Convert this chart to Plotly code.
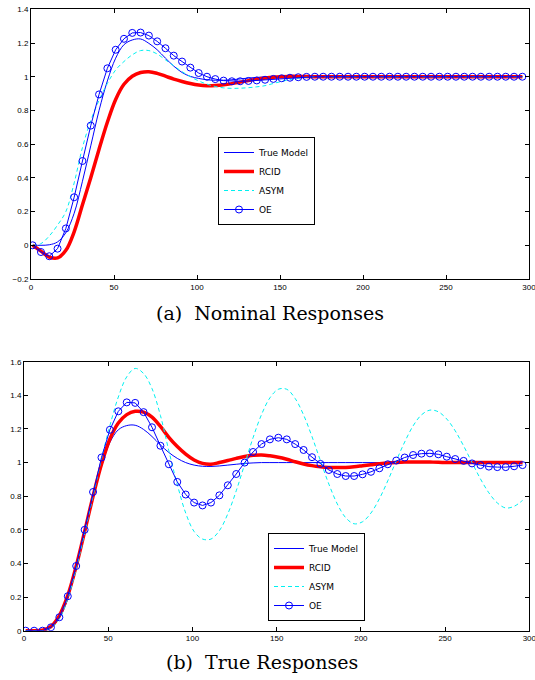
import plotly.graph_objects as go

# sample times (MATLAB style 1:5:296)
t = [1, 6, 11, 16, 21, 26, 31, 36, 41, 46, 51, 56, 61, 66, 71, 76, 81, 86, 91, 96,
     101, 106, 111, 116, 121, 126, 131, 136, 141, 146, 151, 156, 161, 166, 171, 176, 181, 186, 191, 196,
     201, 206, 211, 216, 221, 226, 231, 236, 241, 246, 251, 256, 261, 266, 271, 276, 281, 286, 291, 296]

# ---------- (a) Nominal responses ----------
nom_true = [0, 0, 0.003, 0.02, 0.075, 0.19, 0.38, 0.59, 0.80, 0.975,
            1.11, 1.19, 1.218, 1.224, 1.198, 1.16, 1.11, 1.063, 1.025, 1.002,
            0.99, 0.982, 0.979, 0.979, 0.982, 0.987, 0.992, 0.996, 0.999, 1.0,
            1.0, 1.0, 1.0, 1.0, 1.0, 1.0, 1.0, 1.0, 1.0, 1.0,
            1.0, 1.0, 1.0, 1.0, 1.0, 1.0, 1.0, 1.0, 1.0, 1.0,
            1.0, 1.0, 1.0, 1.0, 1.0, 1.0, 1.0, 1.0, 1.0, 1.0]
nom_rcid = [0, -0.035, -0.07, -0.075, -0.03, 0.08, 0.24, 0.40, 0.57, 0.73,
            0.865, 0.955, 1.003, 1.025, 1.03, 1.02, 1.003, 0.986, 0.972, 0.96,
            0.951, 0.947, 0.948, 0.952, 0.959, 0.968, 0.977, 0.986, 0.992, 0.997,
            1.0, 1.002, 1.002, 1.001, 1.0, 1.0, 1.0, 1.0, 1.0, 1.0,
            1.0, 1.0, 1.0, 1.0, 1.0, 1.0, 1.0, 1.0, 1.0, 1.0,
            1.0, 1.0, 1.0, 1.0, 1.0, 1.0, 1.0, 1.0, 1.0, 1.0]
nom_asym = [0, 0.01, 0.055, 0.12, 0.20, 0.37, 0.58, 0.74, 0.86, 0.96,
            1.04, 1.09, 1.13, 1.155, 1.155, 1.135, 1.10, 1.065, 1.03, 1.0,
            0.975, 0.956, 0.942, 0.934, 0.931, 0.932, 0.935, 0.94, 0.947, 0.96,
            0.972, 0.983, 0.991, 0.997, 1.0, 1.0, 1.0, 1.0, 1.0, 1.0,
            1.0, 1.0, 1.0, 1.0, 1.0, 1.0, 1.0, 1.0, 1.0, 1.0,
            1.0, 1.0, 1.0, 1.0, 1.0, 1.0, 1.0, 1.0, 1.0, 1.0]
nom_oe = [0, -0.04, -0.065, -0.02, 0.10, 0.285, 0.50, 0.71, 0.895, 1.05,
          1.16, 1.225, 1.26, 1.262, 1.244, 1.21, 1.169, 1.125, 1.09, 1.054,
          1.022, 1.0, 0.986, 0.977, 0.973, 0.973, 0.975, 0.978, 0.982, 0.987,
          0.991, 0.994, 0.997, 0.999, 1.0, 1.0, 1.0, 1.0, 1.0, 1.0,
          1.0, 1.0, 1.0, 1.0, 1.0, 1.0, 1.0, 1.0, 1.0, 1.0,
          1.0, 1.0, 1.0, 1.0, 1.0, 1.0, 1.0, 1.0, 1.0, 1.0]

# ---------- (b) True responses ----------
tru_true = [0, 0, 0.003, 0.02, 0.075, 0.19, 0.38, 0.59, 0.80, 0.975,
            1.12, 1.195, 1.22, 1.222, 1.197, 1.155, 1.105, 1.06, 1.025, 1.0,
            0.985, 0.978, 0.977, 0.98, 0.985, 0.99, 0.995, 0.998, 1.0, 1.0,
            1.0, 1.0, 1.0, 1.0, 1.0, 1.0, 1.0, 1.0, 1.0, 1.0,
            1.0, 1.0, 1.0, 1.0, 1.0, 1.0, 1.0, 1.0, 1.0, 1.0,
            1.0, 1.0, 1.0, 1.0, 1.0, 1.0, 1.0, 1.0, 1.0, 1.0]
tru_rcid = [0, 0, 0.003, 0.025, 0.09, 0.21, 0.385, 0.59, 0.80, 0.99,
            1.14, 1.235, 1.285, 1.305, 1.30, 1.27, 1.215, 1.15, 1.095, 1.05,
            1.015, 0.995, 0.99, 1.0, 1.012, 1.025, 1.036, 1.043, 1.045, 1.04,
            1.032, 1.02, 1.005, 0.992, 0.982, 0.975, 0.971, 0.97, 0.971, 0.975,
            0.981, 0.987, 0.993, 0.998, 1.001, 1.003, 1.004, 1.004, 1.003, 1.002,
            1.0, 1.0, 1.0, 1.0, 1.0, 1.0, 1.0, 1.0, 1.0, 1.0]
tru_asym = [0, 0, 0.0, 0.015, 0.07, 0.19, 0.37, 0.58, 0.80, 1.02,
            1.22, 1.39, 1.51, 1.56, 1.53, 1.44, 1.28, 1.07, 0.87, 0.70,
            0.59, 0.545, 0.545, 0.595, 0.695, 0.832, 0.99, 1.148, 1.285, 1.385,
            1.436, 1.436, 1.381, 1.283, 1.154, 1.011, 0.872, 0.754, 0.672, 0.636,
            0.648, 0.70, 0.785, 0.892, 1.01, 1.122, 1.218, 1.284, 1.312, 1.302,
            1.259, 1.189, 1.099, 1.0, 0.903, 0.82, 0.76, 0.73, 0.74, 0.775]
tru_oe = [0, 0, 0.0, 0.02, 0.08, 0.205, 0.385, 0.60, 0.825, 1.03,
          1.195, 1.305, 1.358, 1.355, 1.30, 1.21, 1.10, 0.99, 0.885, 0.81,
          0.762, 0.745, 0.762, 0.805, 0.865, 0.932, 1.0, 1.063, 1.11, 1.138,
          1.148, 1.138, 1.11, 1.075, 1.032, 0.992, 0.956, 0.932, 0.92, 0.92,
          0.93, 0.945, 0.966, 0.99, 1.012, 1.03, 1.045, 1.053, 1.055, 1.049,
          1.035, 1.021, 1.01, 0.995, 0.985, 0.976, 0.973, 0.973, 0.978, 0.985]

names = ["True Model", "RCID", "ASYM", "OE"]
x_ticks = [0, 50, 100, 150, 200, 250, 300]
x_ticktext = ["0", "50", "100", "150", "200", "250", "300"]
ya_ticks = [-0.2, 0, 0.2, 0.4, 0.6, 0.8, 1.0, 1.2, 1.4]
ya_ticktext = ["\u22120.2", "0", "0.2", "0.4", "0.6", "0.8", "1", "1.2", "1.4"]
yb_ticks = [0, 0.2, 0.4, 0.6, 0.8, 1.0, 1.2, 1.4, 1.6]
yb_ticktext = ["0", "0.2", "0.4", "0.6", "0.8", "1", "1.2", "1.4", "1.6"]
captions = ["(a)  Nominal Responses", "(b)  True Responses"]

W, H = 535, 680
fig = go.Figure()

def add_set(ys, xa, ya, legend):
    tr, rc, asy, oe = ys
    fig.add_trace(go.Scatter(x=t, y=tr, name=names[0], mode="lines", xaxis=xa, yaxis=ya, legend=legend,
                             line=dict(color="#0000ff", width=1, shape="spline")))
    fig.add_trace(go.Scatter(x=t, y=rc, name=names[1], mode="lines", xaxis=xa, yaxis=ya, legend=legend,
                             line=dict(color="#ff0000", width=3.5, shape="spline")))
    fig.add_trace(go.Scatter(x=t, y=asy, name=names[2], mode="lines", xaxis=xa, yaxis=ya, legend=legend,
                             line=dict(color="#00f0f0", width=1, dash="4px,3px", shape="spline")))
    fig.add_trace(go.Scatter(x=t, y=oe, name=names[3], mode="lines+markers", xaxis=xa, yaxis=ya, legend=legend,
                             line=dict(color="#0000ff", width=1),
                             marker=dict(symbol="circle-open", size=7, color="#0000ff",
                                         line=dict(width=1, color="#0000ff"))))

add_set((nom_true, nom_rcid, nom_asym, nom_oe), "x", "y", "legend")
add_set((tru_true, tru_rcid, tru_asym, tru_oe), "x2", "y2", "legend2")

tickfont = dict(family="Liberation Sans, Arial, sans-serif", size=8, color="black")
axis_common = dict(showline=True, linecolor="black", linewidth=1, mirror="ticks",
                   ticks="inside", ticklen=4, tickcolor="black", showgrid=False,
                   zeroline=False, tickfont=tickfont, automargin=False,
                   ticklabeloverflow="allow")

legend_style = dict(bgcolor="white", bordercolor="black", borderwidth=1,
                    font=dict(family="DejaVu Sans, sans-serif", size=9, color="black"),
                    xanchor="left", yanchor="top", tracegroupgap=0, itemwidth=30)

fig.update_layout(
    width=W, height=H,
    margin=dict(l=0, r=0, t=0, b=0, pad=0),
    paper_bgcolor="white", plot_bgcolor="white",
    xaxis=dict(domain=[31 / W, 529 / W], range=[0, 300], tickvals=x_ticks, ticktext=x_ticktext,
               anchor="y", **axis_common),
    yaxis=dict(domain=[1 - 279 / H, 1 - 9.3 / H], range=[-0.2, 1.4], tickvals=ya_ticks,
               ticktext=ya_ticktext, anchor="x", **axis_common),
    xaxis2=dict(domain=[24 / W, 529.3 / W], range=[0, 300], tickvals=x_ticks, ticktext=x_ticktext,
                anchor="y2", **axis_common),
    yaxis2=dict(domain=[1 - 630.7 / H, 1 - 361.7 / H], range=[0, 1.6], tickvals=yb_ticks,
                ticktext=yb_ticktext, anchor="x2", **axis_common),
    legend=dict(x=218 / W, y=1 - 137 / H, **legend_style),
    legend2=dict(x=268 / W, y=1 - 533 / H, **legend_style),
    showlegend=True,
)

cap_font = dict(family="DejaVu Serif, serif", size=19, color="black")
fig.add_annotation(text=captions[0], x=270 / W, y=1 - 313 / H, xref="paper", yref="paper",
                   showarrow=False, font=cap_font, xanchor="center", yanchor="middle")
fig.add_annotation(text=captions[1], x=262 / W, y=1 - 662 / H, xref="paper", yref="paper",
                   showarrow=False, font=cap_font, xanchor="center", yanchor="middle")

# remove the browser's default 8px body margin so the 535x680 figure fills the window exactly
fig.write_html("out.html", config={"displayModeBar": False},
               post_script="document.body.style.margin='0px';")
